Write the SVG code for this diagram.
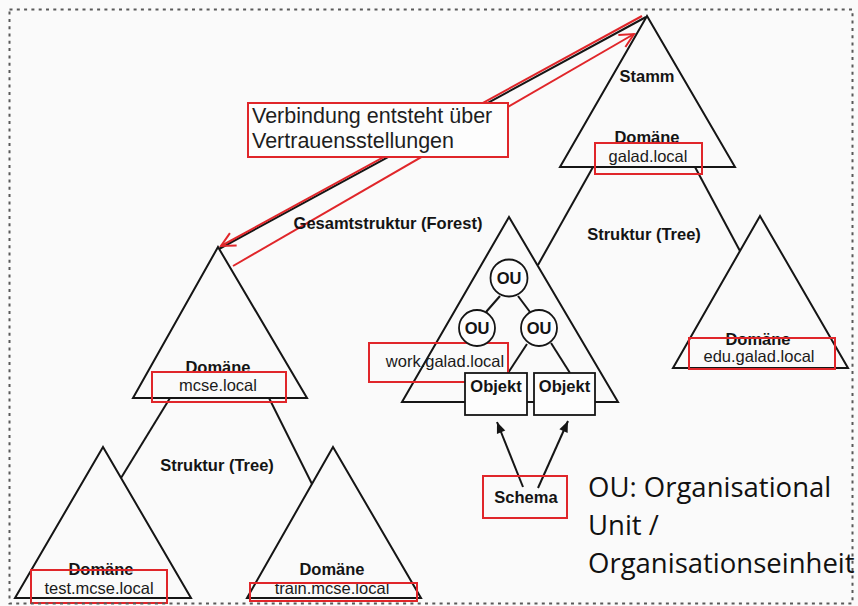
<svg xmlns="http://www.w3.org/2000/svg" width="858" height="606" viewBox="0 0 858 606">
<defs>
<style>
.tri{fill:none;stroke:#151515;stroke-width:2;stroke-linejoin:miter}
.ln{fill:none;stroke:#151515;stroke-width:2}
.red{fill:none;stroke:#e0262a;stroke-width:2}
.redl{fill:none;stroke:#e0262a;stroke-width:2}
.b{font-family:"Liberation Sans",Arial,sans-serif;font-weight:bold;font-size:16.5px;fill:#141414;text-anchor:middle}
.r{font-family:"Liberation Sans",Arial,sans-serif;font-size:16.5px;fill:#1a1a1a;text-anchor:middle}
.call{font-family:"Liberation Sans",Arial,sans-serif;font-size:21.5px;fill:#1e1e1e}
.leg{font-family:"Open Sans","Noto Sans",sans-serif;font-size:27.5px;fill:#111}
.box{fill:#fdfdfd;stroke:#151515;stroke-width:1.8}
.circ{fill:#fdfdfd;stroke:#151515;stroke-width:1.8}
</style>
<marker id="redOpen" viewBox="-16 -9 18 18" refX="0" refY="0" markerWidth="18" markerHeight="18" orient="auto" markerUnits="userSpaceOnUse">
<path d="M-14,-7 L0,0 L-14,7" fill="none" stroke="#e0262a" stroke-width="2"/>
</marker>
<marker id="blk" viewBox="-12 -6 13 12" refX="0" refY="0" markerWidth="13" markerHeight="12" orient="auto" markerUnits="userSpaceOnUse">
<path d="M-11,-4.5 L0,0 L-11,4.5 z" fill="#151515"/>
</marker>
</defs>
<rect x="0" y="0" width="858" height="606" fill="#fafafa"/>

<g id="connectors">
<line class="ln" x1="593" y1="167" x2="538" y2="265"/>
<line class="ln" x1="695" y1="167" x2="740" y2="251"/>
<line class="ln" x1="170" y1="398" x2="121" y2="478"/>
<line class="ln" x1="269" y1="398" x2="312" y2="484"/>
<line class="ln" x1="500" y1="296" x2="486" y2="312"/>
<line class="ln" x1="518" y1="296" x2="530" y2="312"/>
<line class="ln" x1="527" y1="344" x2="508" y2="373"/>
<line class="ln" x1="551" y1="343" x2="570" y2="373"/>
<line class="ln" x1="523" y1="487" x2="497" y2="422" marker-end="url(#blk)"/>
<line class="ln" x1="538" y1="488" x2="568" y2="421" marker-end="url(#blk)"/>
<line class="ln" x1="646" y1="17" x2="219" y2="249"/>
<line class="redl" x1="642" y1="16" x2="221" y2="246" marker-end="url(#redOpen)"/>
<line class="redl" x1="233" y1="266" x2="634" y2="34" marker-end="url(#redOpen)"/>
</g>

<g id="stamm">
<polygon class="tri" points="647,16 560,167 735,167"/>
<text class="b" x="647" y="82">Stamm</text>
<text class="b" x="647" y="143">Domäne</text>
<text class="r" x="648" y="162">galad.local</text>
<rect class="red" x="595" y="143" width="107" height="31"/>
</g>

<g id="edu">
<polygon class="tri" points="760,216 673,368 848,368"/>
<text class="b" x="758" y="345">Domäne</text>
<text class="r" x="759" y="362">edu.galad.local</text>
<rect class="red" x="689" y="338" width="146" height="31"/>
</g>

<g id="work">
<polygon class="tri" points="509,217 402,402 618,402"/>
<text class="r" x="445" y="367">work.galad.local</text>
<rect class="red" x="369" y="343" width="139" height="39"/>
</g>

<g id="ou-top">
<circle class="circ" cx="509" cy="278" r="18.5"/>
<text class="b" x="509" y="284">OU</text>
</g>
<g id="ou-left">
<circle class="circ" cx="477" cy="328" r="18"/>
<text class="b" x="477" y="334">OU</text>
</g>
<g id="ou-right">
<circle class="circ" cx="539" cy="328" r="18"/>
<text class="b" x="539" y="334">OU</text>
</g>

<g id="objekt-1">
<rect class="box" x="465" y="373" width="62" height="42"/>
<text class="b" x="496" y="392">Objekt</text>
</g>
<g id="objekt-2">
<rect class="box" x="534" y="373" width="61" height="42"/>
<text class="b" x="564.5" y="392">Objekt</text>
</g>

<g id="schema">
<rect class="red" x="483" y="476" width="84" height="42"/>
<text class="b" x="526" y="503">Schema</text>
</g>

<g id="mcse">
<polygon class="tri" points="218,247 133,398 307,398"/>
<text class="b" x="218" y="373">Domäne</text>
<text class="r" x="218" y="391">mcse.local</text>
<rect class="red" x="152" y="372" width="134" height="30"/>
</g>

<g id="test">
<polygon class="tri" points="103,447 15,598 191,598"/>
<text class="b" x="101" y="575">Domäne</text>
<text class="r" x="99" y="594">test.mcse.local</text>
<rect class="red" x="31" y="570" width="136" height="33"/>
</g>

<g id="train">
<polygon class="tri" points="333,447 247,598 421,598"/>
<text class="b" x="332" y="575">Domäne</text>
<text class="r" x="332" y="594">train.mcse.local</text>
<rect class="red" x="250" y="583" width="167" height="18"/>
</g>

<g id="labels">
<text class="b" x="388" y="229">Gesamtstruktur (Forest)</text>
<text class="b" x="644" y="240">Struktur (Tree)</text>
<text class="b" x="217" y="471">Struktur (Tree)</text>
</g>

<g id="callout">
<rect x="248" y="103" width="260" height="54" fill="#fdfdfd" stroke="#e0262a" stroke-width="2"/>
<text class="call" x="252" y="123">Verbindung entsteht über</text>
<text class="call" x="252" y="148">Vertrauensstellungen</text>
</g>

<g id="legend">
<text class="leg" x="588" y="497">OU: Organisational</text>
<text class="leg" x="588" y="535">Unit /</text>
<text class="leg" x="588" y="573">Organisationseinheit</text>
</g>

<rect x="9.5" y="9.5" width="843" height="594" fill="none" stroke="#5a5a5a" stroke-width="2" stroke-dasharray="3 4.3"/>
</svg>
